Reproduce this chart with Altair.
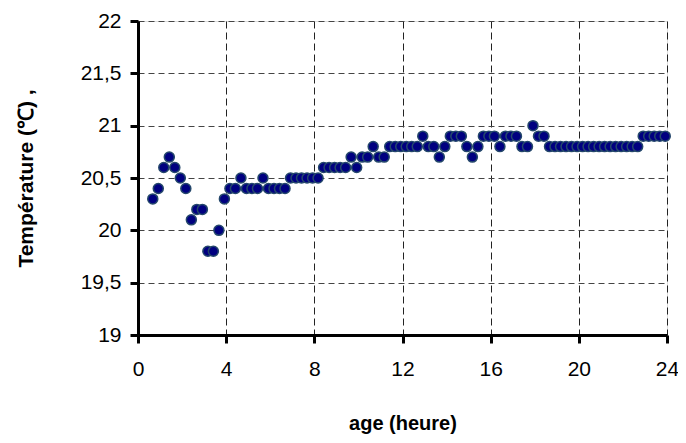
import altair as alt
import pandas as pd

hours = [0.67, 0.92, 1.17, 1.42, 1.67, 1.92, 2.17, 2.42, 2.67, 2.92, 3.17, 3.42, 3.67, 3.92,
         4.17, 4.42, 4.67, 4.92, 5.17, 5.42, 5.67, 5.92, 6.17, 6.42, 6.67, 6.92, 7.17, 7.42,
         7.67, 7.92, 8.17, 8.42, 8.67, 8.92, 9.17, 9.42, 9.67, 9.92, 10.17, 10.42, 10.67, 10.92,
         11.17, 11.42, 11.67, 11.92, 12.17, 12.42, 12.67, 12.92, 13.17, 13.42, 13.67, 13.92,
         14.17, 14.42, 14.67, 14.92, 15.17, 15.42, 15.67, 15.92, 16.17, 16.42, 16.67, 16.92,
         17.17, 17.42, 17.67, 17.92, 18.17, 18.42, 18.67, 18.92, 19.17, 19.42, 19.67, 19.92,
         20.17, 20.42, 20.67, 20.92, 21.17, 21.42, 21.67, 21.92, 22.17, 22.42, 22.67, 22.92,
         23.17, 23.42, 23.67, 23.92]

temps = [20.3, 20.4, 20.6, 20.7, 20.6, 20.5, 20.4, 20.1, 20.2, 20.2, 19.8, 19.8, 20.0, 20.3,
         20.4, 20.4, 20.5, 20.4, 20.4, 20.4, 20.5, 20.4, 20.4, 20.4, 20.4,
         20.5, 20.5, 20.5, 20.5, 20.5, 20.5,
         20.6, 20.6, 20.6, 20.6, 20.6,
         20.7, 20.6, 20.7, 20.7, 20.8, 20.7, 20.7,
         20.8, 20.8, 20.8, 20.8, 20.8, 20.8,
         20.9, 20.8, 20.8, 20.7, 20.8,
         20.9, 20.9, 20.9, 20.8, 20.7, 20.8,
         20.9, 20.9, 20.9, 20.8,
         20.9, 20.9, 20.9, 20.8, 20.8,
         21.0, 20.9, 20.9,
         20.8, 20.8, 20.8, 20.8, 20.8, 20.8, 20.8, 20.8, 20.8, 20.8, 20.8, 20.8, 20.8, 20.8,
         20.8, 20.8, 20.8,
         20.9, 20.9, 20.9, 20.9, 20.9]

x_ticks = [0, 4, 8, 12, 16, 20, 24]
y_ticks = [19, 19.5, 20, 20.5, 21, 21.5, 22]

df = pd.DataFrame({"age": hours, "temp": temps})

font = "Liberation Sans"

chart = alt.Chart(df).mark_circle(
    size=100, color="#000080", opacity=1, stroke="#24476b", strokeWidth=1.5
).encode(
    x=alt.X("age:Q", scale=alt.Scale(domain=[0, 24], nice=False),
            axis=alt.Axis(values=x_ticks, title="age (heure)", grid=True,
                          gridDash=[7, 4], gridColor="#222222", gridWidth=1,
                          domainColor="black", domainWidth=3,
                          tickColor="black", tickWidth=3, tickSize=8,
                          labelFont=font, labelFontSize=21, labelColor="black",
                          labelPadding=15, labelFlush=False,
                          titleFont=font, titleFontSize=20, titleFontWeight="bold",
                          titleColor="black", titlePadding=34)),
    y=alt.Y("temp:Q", scale=alt.Scale(domain=[19, 22], nice=False, zero=False),
            axis=alt.Axis(values=y_ticks, title="Température (℃)  ,", grid=True,
                          gridDash=[6, 4], gridColor="#444444", gridWidth=1,
                          domainColor="black", domainWidth=3,
                          tickColor="black", tickWidth=3, tickSize=8,
                          labelFont=font, labelFontSize=21, labelColor="black",
                          labelPadding=9,
                          labelExpr="replace(toString(datum.value), '.', ',')",
                          titleFont=font, titleFontSize=21, titleFontWeight="bold",
                          titleColor="black", titlePadding=44)),
).properties(
    width=529, height=314,
    autosize=alt.AutoSizeParams(type="none"),
    padding={"left": 130, "top": 13, "right": 11, "bottom": 100},
).configure_view(
    stroke="#999999", strokeWidth=2
).configure(background="white")

chart.save("out.html", embed_options={"renderer": "svg", "actions": False})
